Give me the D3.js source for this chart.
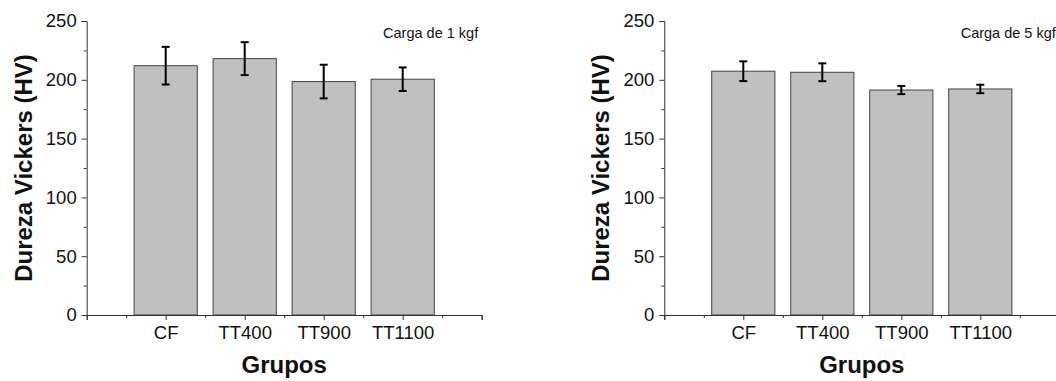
<!DOCTYPE html>
<html>
<head>
<meta charset="utf-8">
<script src="https://cdn.jsdelivr.net/npm/d3@7"></script>
<style>
  body { margin: 0; background: #fff; }
  svg { display: block; font-family: "Liberation Sans", Arial, sans-serif; }
</style>
</head>
<body>
<svg width="1056" height="381"></svg>
<script>
var grupos = ["CF", "TT400", "TT900", "TT1100"];

var valores1kgf = [212, 218, 198.5, 200.5];
var erros1kgf = [16, 14, 14.3, 10];

var valores5kgf = [207.3, 206.4, 191.3, 192.2];
var erros5kgf = [8.4, 7.6, 3.5, 3.6];

var yTicks = [0, 50, 100, 150, 200, 250];

var paineis = [
  { left: 86.7, titulo: "Carga de 1 kgf", valores: valores1kgf, erros: erros1kgf },
  { left: 664.3, titulo: "Carga de 5 kgf", valores: valores5kgf, erros: erros5kgf }
];

var plotTop = 21, plotBottom = 315, largura = 395;

var svg = d3.select("svg");

paineis.forEach(function (p) {
  var g = svg.append("g").attr("transform", "translate(" + p.left + ",0)");

  var x = d3.scaleLinear().domain([0, 5]).range([0, largura]);
  var y = d3.scaleLinear().domain([0, 250]).range([plotBottom, plotTop]);
  var barW = x(0.8) - x(0);

  var data = grupos.map(function (d, i) {
    return { nome: d, pos: i + 1, v: p.valores[i], e: p.erros[i] };
  });

  // barras
  g.selectAll("rect.bar")
    .data(data)
    .enter()
    .append("rect")
    .attr("class", "bar")
    .attr("x", function (d) { return x(d.pos) - barW / 2; })
    .attr("y", function (d) { return y(d.v); })
    .attr("width", barW)
    .attr("height", function (d) { return y(0) - y(d.v); })
    .attr("fill", "#c0c0c0")
    .attr("stroke", "#444")
    .attr("stroke-width", 1);

  // barras de erro
  var eb = g.selectAll("g.err")
    .data(data)
    .enter()
    .append("g")
    .attr("class", "err")
    .attr("stroke", "#000")
    .attr("stroke-width", 2);
  eb.append("line")
    .attr("x1", function (d) { return x(d.pos); })
    .attr("x2", function (d) { return x(d.pos); })
    .attr("y1", function (d) { return y(d.v + d.e); })
    .attr("y2", function (d) { return y(d.v - d.e); });
  eb.append("line")
    .attr("x1", function (d) { return x(d.pos) - 4; })
    .attr("x2", function (d) { return x(d.pos) + 4; })
    .attr("y1", function (d) { return y(d.v + d.e); })
    .attr("y2", function (d) { return y(d.v + d.e); });
  eb.append("line")
    .attr("x1", function (d) { return x(d.pos) - 4; })
    .attr("x2", function (d) { return x(d.pos) + 4; })
    .attr("y1", function (d) { return y(d.v - d.e); })
    .attr("y2", function (d) { return y(d.v - d.e); });

  // eixo y
  var yAxis = g.append("g")
    .call(d3.axisLeft(y).tickValues(yTicks).tickSize(5).tickPadding(5));
  g.append("g")
    .call(d3.axisLeft(y).tickValues(d3.range(25, 250, 50)).tickSize(3).tickFormat(""))
    .select(".domain").remove();
  yAxis.selectAll("text").attr("font-size", 18.5).attr("fill", "#111");

  // eixo x
  var xAxis = g.append("g")
    .attr("transform", "translate(0," + plotBottom + ")")
    .call(d3.axisBottom(x).tickValues([0, 1, 2, 3, 4, 5]).tickSize(5).tickPadding(6)
      .tickFormat(function (d) { return grupos[d - 1] || ""; }));
  g.append("g")
    .attr("transform", "translate(0," + plotBottom + ")")
    .call(d3.axisBottom(x).tickValues(d3.range(0.5, 5, 1)).tickSize(3).tickFormat(""))
    .select(".domain").remove();
  xAxis.selectAll("text").attr("font-size", 18.5).attr("fill", "#111");

  g.selectAll(".domain, .tick line").attr("stroke", "#333");
  g.selectAll("g").attr("font-family", null);

  // titulos
  g.append("text")
    .attr("x", x(2.5))
    .attr("y", 373)
    .attr("text-anchor", "middle")
    .attr("font-size", 24)
    .attr("font-weight", "bold")
    .attr("fill", "#111")
    .text("Grupos");

  g.append("text")
    .attr("transform", "translate(-55," + y(125) + ") rotate(-90)")
    .attr("text-anchor", "middle")
    .attr("font-size", 24)
    .attr("font-weight", "bold")
    .attr("fill", "#111")
    .text("Dureza Vickers (HV)");

  g.append("text")
    .attr("x", 391.5)
    .attr("y", 37.5)
    .attr("text-anchor", "end")
    .attr("font-size", 14.5)
    .attr("fill", "#111")
    .text(p.titulo);
});
</script>
</body>
</html>
